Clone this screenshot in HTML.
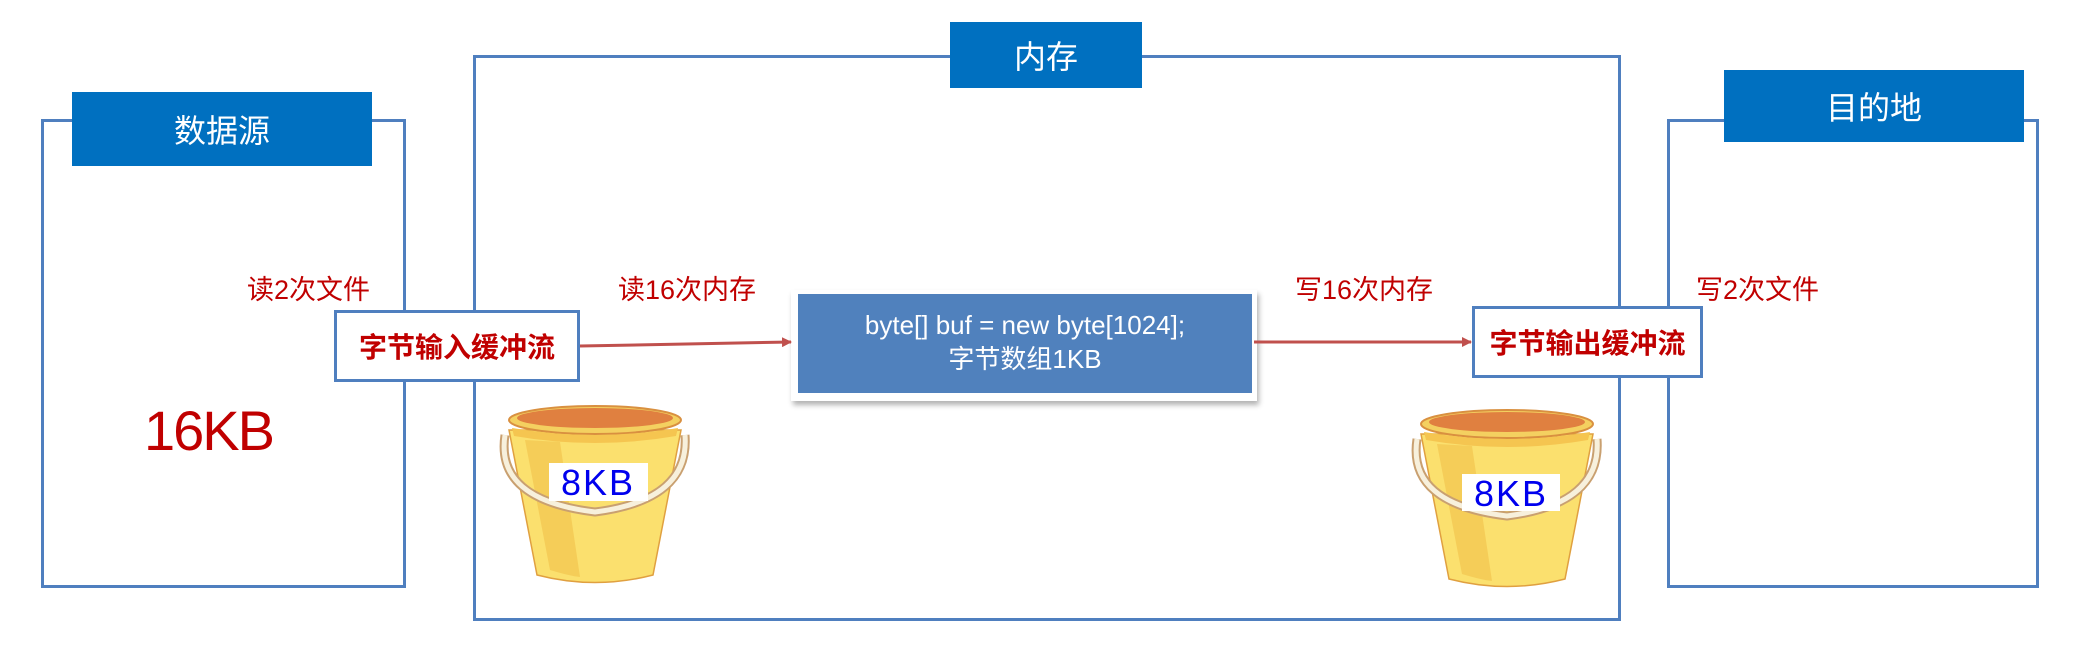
<!DOCTYPE html>
<html><head><meta charset="utf-8"><style>
body{margin:0;width:2076px;height:646px;background:#fff;position:relative;overflow:hidden;font-family:"Liberation Sans","Noto Sans CJK SC",sans-serif}
.a{position:absolute;box-sizing:border-box}
.box{border:3px solid #4f7fbf;background:#fff}
.hd{background:#0070c0;color:#fff;font-size:32px;display:flex;align-items:center;justify-content:center}
.red{color:#c00000;font-size:27px;white-space:nowrap}
.buf{border:3px solid #4f7fbf;background:#fff;color:#c00000;font-weight:bold;font-size:28px;display:flex;align-items:center;justify-content:center;white-space:nowrap}
</style></head><body>
<div class="a box" style="left:41px;top:119px;width:365px;height:469px"></div>
<div class="a hd" style="left:72px;top:92px;width:300px;height:74px">数据源</div>
<div class="a box" style="left:473px;top:55px;width:1148px;height:566px"></div>
<div class="a hd" style="left:950px;top:22px;width:192px;height:66px">内存</div>
<div class="a box" style="left:1667px;top:119px;width:372px;height:469px"></div>
<div class="a hd" style="left:1724px;top:70px;width:300px;height:72px">目的地</div>

<div class="a red" style="left:247px;top:268px">读2次文件</div>
<div class="a red" style="left:618px;top:268px">读16次内存</div>
<div class="a red" style="left:1295px;top:268px">写16次内存</div>
<div class="a red" style="left:1696px;top:268px">写2次文件</div>
<div class="a" style="left:144px;top:398px;font-size:56px;color:#c00000;letter-spacing:-2px">16KB</div>

<div class="a" style="left:791px;top:290px;width:466px;height:111px;background:#fff;box-shadow:2px 4px 5px rgba(0,0,0,.3)"></div>
<div class="a" style="left:798px;top:294px;width:454px;height:99px;background:#5081bd;color:#fff;font-size:26px;text-align:center;line-height:34px;padding-top:14px">byte[] buf = new byte[1024];<br>字节数组1KB</div>

<svg class="a" style="left:0;top:0" width="2076" height="646">
<defs><marker id="ar" markerWidth="10" markerHeight="10" refX="9" refY="5" orient="auto" markerUnits="userSpaceOnUse"><path d="M0,0 L10,5 L0,10z" fill="#c0504d"/></marker>
<g id="bk">
<path d="M19,40 L47,185 Q105,200 163,185 L191,40 Z" fill="#fbe06e" stroke="#e0a040" stroke-width="1.5"/>
<path d="M35,50 L60,180 Q80,186 90,187 L70,52 Z" fill="#f2c04a" opacity=".6"/>
<ellipse cx="105" cy="30" rx="86" ry="14" fill="#f4d060" stroke="#d99040" stroke-width="2"/>
<ellipse cx="105" cy="28" rx="78" ry="10" fill="#e08040"/>
<path d="M22,38 Q105,52 188,38 L186,46 Q105,60 24,46Z" fill="#f5c550"/>
<path d="M15,45 Q5,110 105,122 Q200,110 195,45" fill="none" stroke="#c9a070" stroke-width="9"/>
<path d="M15,45 Q5,110 105,122 Q200,110 195,45" fill="none" stroke="#f7f0dc" stroke-width="5"/>
</g></defs>
<line x1="580" y1="346" x2="791" y2="342" stroke="#c0504d" stroke-width="3" marker-end="url(#ar)"/>
<line x1="1254" y1="342" x2="1471" y2="342" stroke="#c0504d" stroke-width="3" marker-end="url(#ar)"/>
<use href="#bk" x="490" y="390"/>
<use href="#bk" x="1402" y="394"/>
<rect x="549" y="463" width="99" height="38" fill="#fff"/>
<text x="598" y="495" font-size="36" fill="#0000ee" text-anchor="middle" font-family="Liberation Sans,sans-serif" letter-spacing="2">8KB</text>
<rect x="1462" y="474" width="98" height="37" fill="#fff"/>
<text x="1511" y="506" font-size="36" fill="#0000ee" text-anchor="middle" font-family="Liberation Sans,sans-serif" letter-spacing="2">8KB</text>
</svg>

<div class="a buf" style="left:334px;top:310px;width:246px;height:72px">字节输入缓冲流</div>
<div class="a buf" style="left:1472px;top:306px;width:231px;height:72px">字节输出缓冲流</div>
</body></html>
